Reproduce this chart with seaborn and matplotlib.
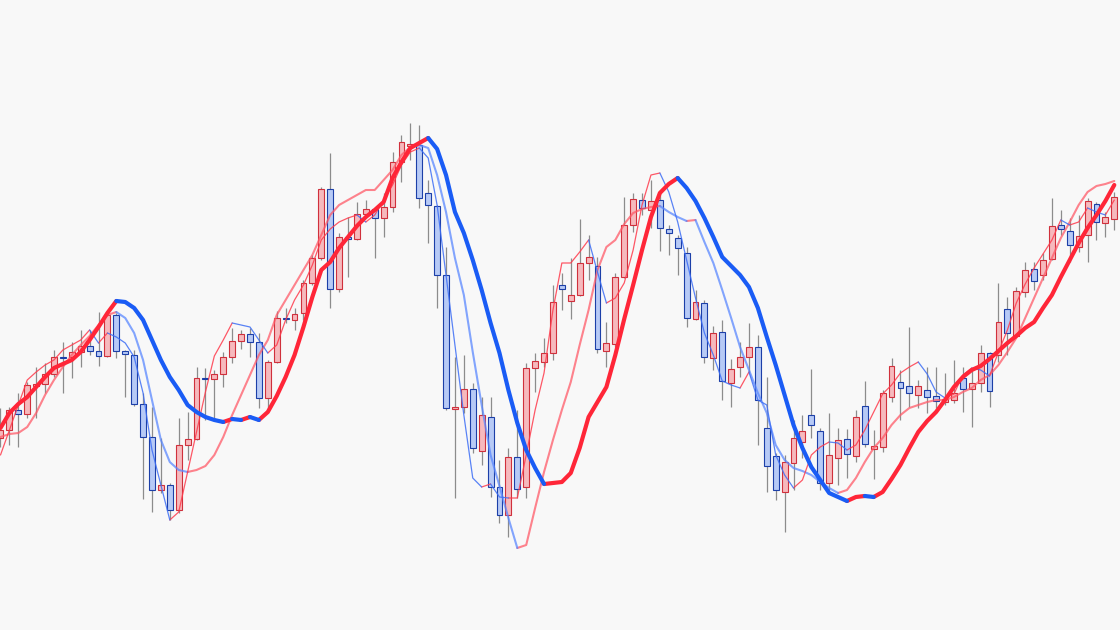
import pandas as pd
import numpy as np
import matplotlib
matplotlib.use("Agg")
import matplotlib.pyplot as plt
import seaborn as sns

# OHLC (arbitrary price units)
opens = [19.2, 20.0, 22.0, 21.6, 24.4, 24.6, 25.6, 27.3, 27.3, 27.8,
         28.4, 27.9, 27.4, 31.5, 27.9, 27.5, 22.6, 19.3, 14.0, 14.5,
         12.0, 18.5, 19.1, 25.2, 25.1, 25.6, 27.3, 28.9, 29.6, 28.8,
         23.2, 26.8, 31.2, 31.0, 31.7, 34.7, 37.2, 44.1, 34.1, 39.3,
         39.1, 41.6, 42.1, 41.2, 42.3, 46.8, 48.4, 48.5, 43.7, 42.4,
         35.5, 22.1, 22.3, 24.1, 17.9, 21.3, 14.3, 11.5, 17.3, 14.3,
         26.2, 26.8, 27.7, 34.5, 32.9, 33.5, 36.7, 36.4, 27.9, 28.6,
         35.3, 40.5, 43.0, 42.0, 43.0, 40.1, 39.2, 37.7, 31.1, 32.7,
         27.2, 29.8, 24.7, 26.3, 27.3, 28.3, 20.2, 17.4, 13.8, 16.7,
         18.8, 21.5, 19.9, 14.7, 17.2, 19.1, 17.4, 22.4, 18.1, 18.3,
         23.3, 24.8, 24.4, 23.5, 24.0, 23.4, 22.8, 23.0, 25.2, 24.1,
         24.7, 27.7, 27.5, 32.1, 29.4, 33.8, 36.1, 35.5, 37.1, 40.5,
         39.9, 38.3, 39.5, 42.6, 40.7, 41.1]
closes = [20.0, 22.0, 21.6, 24.5, 24.6, 25.6, 27.3, 27.2, 27.8, 28.4,
          27.9, 27.4, 31.5, 27.9, 27.6, 22.6, 19.3, 14.0, 14.5, 12.0,
          18.5, 19.1, 25.2, 25.1, 25.6, 27.3, 28.9, 29.6, 28.8, 23.2,
          26.8, 31.2, 31.1, 31.6, 34.7, 37.2, 44.1, 34.1, 39.3, 39.1,
          41.6, 42.1, 41.2, 42.3, 46.8, 48.8, 48.6, 43.2, 42.5, 35.5,
          22.2, 22.3, 24.1, 18.2, 21.5, 14.3, 11.5, 17.3, 14.1, 26.2,
          26.9, 27.7, 32.8, 34.1, 33.5, 36.7, 37.3, 28.1, 28.7, 35.3,
          40.5, 43.1, 42.2, 42.9, 40.2, 39.7, 38.2, 31.2, 32.8, 27.3,
          29.7, 24.9, 26.1, 27.3, 28.3, 23.0, 16.4, 14.0, 16.8, 19.2,
          19.9, 20.5, 14.7, 17.5, 19.0, 17.6, 21.3, 18.6, 18.4, 23.7,
          26.4, 24.2, 23.7, 24.4, 23.3, 22.9, 23.1, 23.7, 24.1, 24.7,
          27.7, 23.9, 30.8, 29.7, 33.9, 36.0, 34.9, 37.0, 40.4, 40.1,
          38.5, 39.4, 42.9, 40.8, 41.3, 43.3]
highs = [22.2, 22.3, 23.7, 24.8, 26.3, 26.7, 28.0, 28.8, 28.8, 30.0,
         30.0, 31.8, 31.8, 31.7, 28.0, 28.0, 23.7, 22.3, 19.2, 14.7,
         21.2, 21.8, 26.3, 26.2, 26.0, 27.8, 30.2, 30.0, 30.2, 29.7,
         27.0, 31.9, 32.2, 32.2, 35.0, 37.5, 44.3, 47.7, 39.7, 41.3,
         42.8, 43.0, 42.2, 43.7, 47.8, 49.5, 50.7, 50.5, 45.0, 42.5,
         38.3, 27.3, 27.5, 24.7, 23.3, 23.3, 17.0, 18.2, 22.0, 26.7,
         27.7, 29.2, 34.5, 35.7, 37.2, 41.1, 39.5, 37.3, 30.8, 35.7,
         43.3, 43.7, 43.7, 45.0, 43.7, 40.5, 39.5, 38.3, 34.0, 33.0,
         30.4, 31.0, 27.1, 28.8, 30.7, 29.5, 25.3, 17.7, 17.5, 21.0,
         21.5, 26.1, 20.2, 21.7, 20.2, 20.1, 22.0, 24.9, 20.0, 24.0,
         27.2, 26.0, 30.3, 25.0, 26.3, 26.3, 25.7, 27.0, 26.3, 26.0,
         28.5, 27.8, 34.7, 33.3, 34.3, 36.8, 36.8, 37.7, 43.2, 42.0,
         41.2, 41.5, 43.2, 42.8, 41.8, 43.8]
lows = [18.3, 18.5, 18.3, 21.2, 21.2, 23.7, 25.3, 23.7, 25.2, 26.3,
        27.5, 26.4, 27.3, 27.2, 23.3, 22.4, 13.1, 11.8, 13.7, 11.0,
        11.7, 17.0, 19.0, 21.0, 21.0, 24.3, 26.7, 28.1, 27.3, 22.2,
        22.2, 26.7, 30.7, 30.0, 31.0, 34.5, 37.0, 32.2, 33.8, 35.3,
        39.0, 41.2, 37.2, 39.3, 41.8, 44.8, 47.0, 42.2, 38.7, 32.2,
        22.0, 13.2, 21.7, 17.7, 16.5, 13.3, 10.7, 9.3, 13.2, 13.2,
        23.8, 26.3, 27.0, 32.0, 31.1, 33.4, 35.0, 27.7, 26.3, 28.3,
        35.2, 39.8, 41.5, 40.2, 37.9, 37.5, 35.5, 30.3, 31.0, 26.7,
        26.0, 23.0, 22.3, 25.3, 25.8, 18.5, 13.8, 13.0, 9.8, 14.0,
        17.2, 19.2, 14.0, 13.8, 14.5, 15.2, 16.8, 18.3, 15.1, 17.8,
        22.8, 21.0, 22.3, 22.2, 21.7, 22.2, 22.5, 22.7, 21.8, 20.3,
        23.8, 22.3, 26.8, 27.5, 29.3, 33.3, 34.0, 35.0, 37.0, 39.5,
        36.8, 37.8, 36.8, 39.0, 39.3, 40.0]

# slow smoothed average (thick)
ma_slow = [20.2, 21.7, 22.6, 23.3, 24.3, 25.3, 26.2, 26.6, 27.0, 27.8,
           29.0, 30.3, 31.7, 32.9, 32.8, 32.2, 31.0, 29.0, 27.0, 25.3,
           24.0, 22.5, 21.8, 21.3, 21.0, 20.8, 21.1, 21.0, 21.3, 21.0,
           21.8, 23.4, 25.3, 27.5, 30.3, 33.3, 36.0, 36.8, 38.2, 39.3,
           40.4, 41.3, 42.0, 42.8, 45.2, 46.8, 48.2, 48.7, 49.2, 48.1,
           45.5, 41.8, 39.7, 37.0, 34.0, 30.7, 27.7, 24.0, 20.7, 18.0,
           16.2, 14.6, 14.7, 14.8, 15.7, 18.2, 21.3, 22.8, 24.3, 27.5,
           31.1, 34.5, 38.0, 41.3, 43.7, 44.6, 45.2, 44.2, 42.9, 41.2,
           39.3, 37.3, 36.4, 35.5, 34.3, 32.2, 29.3, 26.5, 23.5, 20.5,
           18.2, 16.3, 15.0, 13.7, 13.3, 12.9, 13.3, 13.4, 13.3, 13.8,
           15.1, 16.5, 18.2, 19.8, 20.9, 21.8, 23.0, 24.3, 25.3, 26.0,
           26.4, 27.1, 27.9, 28.7, 29.4, 30.2, 30.8, 32.2, 33.5, 35.3,
           37.0, 38.7, 40.2, 41.5, 42.9, 44.5]
# medium line
ma_mid = [19.3, 19.6, 19.7, 20.3, 21.7, 23.5, 25.0, 26.3, 27.5, 28.5,
          29.4, 30.5, 31.5, 31.8, 31.2, 29.7, 27.0, 23.0, 19.0, 16.8,
          16.0, 15.8, 16.0, 16.4, 17.5, 19.3, 21.5, 23.5, 25.5, 27.5,
          29.0, 31.5, 33.0, 34.5, 36.0, 37.5, 39.5, 41.5, 42.5, 43.0,
          43.5, 44.0, 44.0, 45.0, 46.0, 47.5, 48.3, 48.5, 48.2, 45.5,
          41.8, 37.2, 33.5, 27.8, 22.5, 17.5, 14.4, 11.2, 8.2, 8.5,
          12.2, 15.8, 19.0, 22.0, 24.8, 28.5, 32.0, 36.0, 38.3, 39.0,
          40.6, 41.7, 42.1, 42.3, 42.4, 41.8, 41.3, 40.9, 41.0, 38.8,
          36.7, 34.0, 31.2, 28.3, 26.0, 23.7, 21.7, 18.5, 17.0, 16.2,
          15.9, 15.5, 14.8, 14.2, 13.7, 14.0, 15.2, 16.8, 18.2, 19.2,
          20.5, 21.5, 22.2, 22.5, 22.8, 23.0, 23.0, 23.3, 23.8, 24.2,
          25.0, 25.5, 26.5, 27.8, 29.2, 31.2, 33.2, 35.2, 37.2, 39.2,
          40.8, 42.5, 43.8, 44.4, 44.6, 44.9]
# fast line (thin)
ma_fast = [17.5, 20.0, 22.5, 25.0, 25.8, 26.5, 27.0, 28.0, 28.5, 29.0,
           30.0, 28.7, 29.7, 29.3, 28.7, 27.3, 23.7, 18.0, 14.5, 11.0,
           11.8, 15.8, 19.8, 23.8, 27.4, 29.0, 30.7, 30.5, 30.3, 29.0,
           27.7, 28.5, 31.0, 33.0, 34.5, 36.5, 39.0, 40.1, 40.8, 41.2,
           41.5, 40.8, 41.5, 43.0, 44.5, 46.5, 47.8, 48.2, 47.2, 42.5,
           35.5, 28.5, 21.5, 15.2, 14.3, 14.6, 13.3, 13.2, 13.2, 17.5,
           22.0, 25.7, 32.0, 36.7, 36.7, 37.8, 39.0, 35.8, 32.7, 33.2,
           34.7, 38.0, 42.5, 45.5, 45.7, 43.8, 40.8, 37.0, 33.2, 29.7,
           27.5, 24.9, 24.5, 24.2, 25.8, 23.0, 22.5, 17.5, 15.5, 14.2,
           15.0, 17.5, 18.3, 18.8, 18.7, 18.0, 18.5, 20.0, 21.8, 23.6,
           24.5, 25.7, 26.3, 26.8, 25.6, 23.8, 23.2, 23.6, 25.5, 26.2,
           26.0, 25.4, 27.8, 30.0, 32.7, 34.6, 36.2, 37.6, 39.0, 41.0,
           40.5, 40.8, 42.2, 41.8, 41.5, 43.0]

df = pd.DataFrame({"open": opens, "high": highs, "low": lows, "close": closes})
df["idx"] = np.arange(len(df))
up = df["close"] >= df["open"]

sns.set_theme(style="white")
bg = "#f8f8f8"
fig = plt.figure(figsize=(11.2, 6.3), dpi=100, facecolor=bg)
ax = fig.add_axes([0, 0, 1, 1])
ax.set_facecolor(bg)

# wicks
ax.vlines(df["idx"], df["low"], df["high"], color="#8c8c8c", linewidth=0.9, zorder=1)
# bodies
body_lo = np.minimum(df["open"], df["close"])
body_h = np.maximum((df["close"] - df["open"]).abs(), 0.12)
ax.bar(df["idx"][up], body_h[up], bottom=body_lo[up], width=0.66,
       color="#f6b9bd", edgecolor="#d0303c", linewidth=0.8, zorder=2)
ax.bar(df["idx"][~up], body_h[~up], bottom=body_lo[~up], width=0.66,
       color="#b7caf6", edgecolor="#1c3fa8", linewidth=0.8, zorder=2)


def slope_runs(vals):
    # split a line into rising / falling runs so each run gets its own colour
    rows = []
    run, prev = 0, None
    for i in range(len(vals) - 1):
        d = "up" if vals[i + 1] >= vals[i] else "down"
        if d != prev:
            run += 1
            prev = d
        rows.append((i, vals[i], run, d))
        rows.append((i + 1, vals[i + 1], run, d))
    out = pd.DataFrame(rows, columns=["x", "y", "run", "dir"])
    return out.drop_duplicates(subset=["x", "run"])


lines = [
    (ma_mid, {"up": "#ff5a68", "down": "#5a88ff"}, 1.5, 0.75, 3),
    (ma_fast, {"up": "#ff3b4c", "down": "#3d6ef5"}, 0.9, 0.85, 4),
    (ma_slow, {"up": "#ff2638", "down": "#1a5cf5"}, 3.0, 1.0, 5),
]
for vals, pal, lw, a, z in lines:
    sns.lineplot(data=slope_runs(vals), x="x", y="y", hue="dir", units="run",
                 estimator=None, palette=pal, linewidth=lw, alpha=a,
                 legend=False, ax=ax, zorder=z)

ax.set_xlim(-0.056, 125.64)
ax.set_ylim(0, 63)
ax.axis("off")

fig.savefig("out.png", dpi=100, facecolor=bg)
